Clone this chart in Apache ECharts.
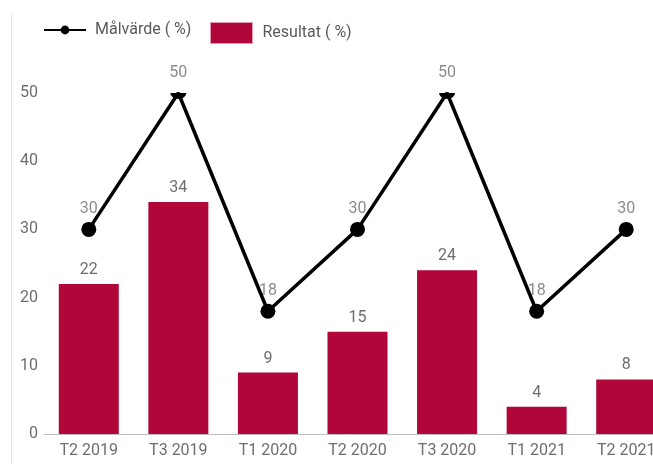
<!DOCTYPE html>
<html>
<head>
<meta charset="utf-8">
<script src="https://cdn.jsdelivr.net/npm/echarts@6/dist/echarts.min.js"></script>
<style>
  html, body { margin: 0; padding: 0; background: #fff; }
  #chart { width: 653px; height: 464px; }
</style>
</head>
<body>
<div id="chart"></div>
<script>
// Periods on the x axis
const periods = ['T2 2019', 'T3 2019', 'T1 2020', 'T2 2020', 'T3 2020', 'T1 2021', 'T2 2021'];
// Target values (%)
const target = [30, 50, 18, 30, 50, 18, 30];
// Achieved results (%)
const result = [22, 34, 9, 15, 24, 4, 8];
// Value axis ticks
const yTicks = [0, 10, 20, 30, 40, 50];

const Y_MIN = yTicks[0];
const Y_MAX = yTicks[yTicks.length - 1];
const Y_STEP = yTicks[1] - yTicks[0];

const FONT = 'Roboto';
const TEXT_GREY = '#6e6e6e';
const BAR_RED = '#b0063a';

// Points sitting on the top edge of the plot are cut flat by the plot border
const HALF_DISC = 'path://M0,0 L14,0 A7,7 0 0,1 0,0 Z';
const targetData = target.map(v => v >= Y_MAX
  ? { value: v, symbol: HALF_DISC, symbolSize: [16, 6], symbolOffset: [0, 3] }
  : v);

const chart = echarts.init(document.getElementById('chart'), null, { renderer: 'canvas' });

chart.setOption({
  animation: false,
  backgroundColor: '#fff',
  textStyle: { fontFamily: FONT },
  graphic: [{
    type: 'line',
    shape: { x1: 11.5, y1: 13, x2: 11.5, y2: 464 },
    style: { stroke: '#e6e6e6', lineWidth: 1 },
    silent: true
  }],
  legend: [{
    data: ['Målvärde ( %)'],
    left: 43, top: 22, padding: 0,
    itemWidth: 42, itemHeight: 11,
    textStyle: { color: '#5a5a5a', fontSize: 16, fontFamily: FONT, padding: [0, 0, 0, 4] }
  }, {
    data: [{ name: 'Resultat ( %)', icon: 'rect' }],
    left: 210, top: 22, padding: 0,
    itemWidth: 42, itemHeight: 21,
    itemStyle: { borderColor: '#e59aaf', borderWidth: 1 },
    textStyle: { color: '#5a5a5a', fontSize: 16, fontFamily: FONT, padding: [0, 0, 0, 5] }
  }],
  // the last period runs past the right edge of the canvas
  grid: { left: 44, top: 93, width: 627, bottom: 30, containLabel: false, outerBoundsMode: 'none' },
  xAxis: {
    type: 'category',
    data: periods,
    boundaryGap: true,
    axisLine: { show: true, lineStyle: { color: '#bdbdbd', width: 1 } },
    axisTick: { show: false },
    axisLabel: { color: TEXT_GREY, fontSize: 16, fontFamily: FONT, margin: 9 },
    splitLine: { show: false }
  },
  yAxis: {
    type: 'value',
    min: Y_MIN, max: Y_MAX, interval: Y_STEP,
    axisLine: { show: false },
    axisTick: { show: false },
    splitLine: { show: false },
    axisLabel: { color: TEXT_GREY, fontSize: 16, fontFamily: FONT, margin: 6 }
  },
  series: [{
    name: 'Resultat ( %)',
    type: 'bar',
    data: result,
    barWidth: 60,
    itemStyle: { color: BAR_RED },
    label: {
      show: true, position: 'top', distance: 6,
      color: TEXT_GREY, fontSize: 16, fontFamily: FONT
    },
    z: 2
  }, {
    // value labels of the target line, kept underneath the line itself
    name: 'Målvärde labels',
    type: 'scatter',
    data: target,
    symbol: 'circle',
    symbolSize: 14,
    itemStyle: { color: 'rgba(0,0,0,0)' },
    label: {
      show: true, position: 'top', distance: 5,
      color: TEXT_GREY, fontSize: 16, fontFamily: FONT
    },
    silent: true,
    z: 1
  }, {
    name: 'Målvärde ( %)',
    type: 'line',
    data: targetData,
    symbol: 'circle',
    symbolSize: 15,
    showAllSymbol: true,
    lineStyle: { color: '#000', width: 3.5 },
    itemStyle: { color: '#000' },
    label: { show: false },
    z: 3
  }]
});
</script>
</body>
</html>
